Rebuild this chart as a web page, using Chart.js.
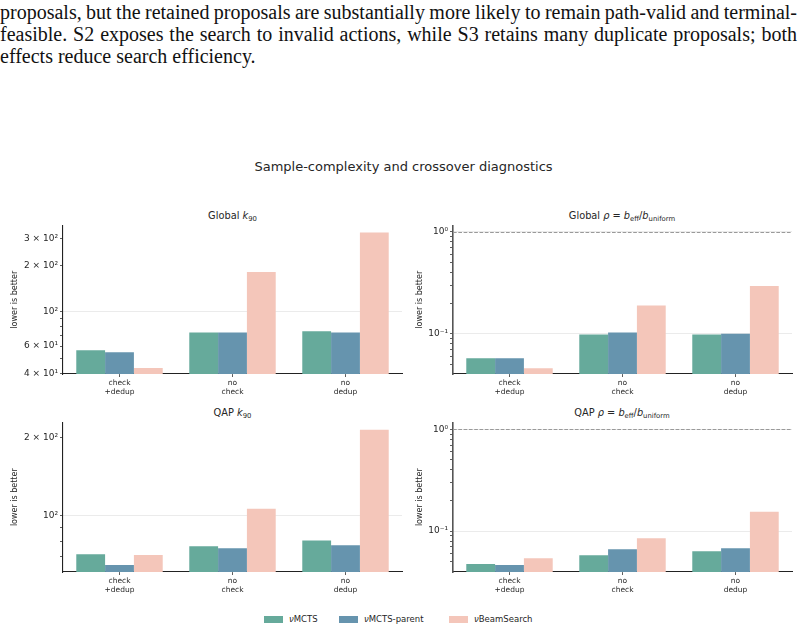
<!DOCTYPE html>
<html>
<head>
<meta charset="utf-8">
<script src="https://cdn.jsdelivr.net/npm/chart.js@4/dist/chart.umd.min.js"></script>
<style>
  html, body { margin:0; padding:0; background:#fff; }
  #page { position:relative; width:807px; height:631px; overflow:hidden; background:#fff; }
  .para { position:absolute; left:0; top:0.5px; width:797px; font-family:"Liberation Serif","Times New Roman",serif; font-size:20px; line-height:22px; color:#111; }
  .para div { white-space:nowrap; }
  .sup { position:absolute; left:0; width:807px; text-align:center; font-family:"DejaVu Sans",sans-serif; font-size:13px; color:#262626; }
  .ptitle { position:absolute; transform:translate(-50%,-50%); white-space:nowrap; font-family:"DejaVu Sans",sans-serif; font-size:9.8px; color:#262626; }
  .ptitle i { font-family:"DejaVu Sans",sans-serif; font-style:italic; }
  .ptitle sub { font-size:0.7em; vertical-align:-0.3em; line-height:0; }
  canvas { position:absolute; }
  .legend { position:absolute; top:613px; left:0; width:807px; height:12px; font-family:"DejaVu Sans",sans-serif; font-size:8.5px; color:#262626; }
  .legend span { position:absolute; top:0; line-height:12px; white-space:nowrap; }
  .legend .sw { width:19px; height:7px; top:2.5px; }
</style>
</head>
<body>
<div id="page">
  <div class="para">
    <div class="j">proposals, but the retained proposals are substantially more likely to remain path-valid and terminal-</div>
    <div class="j">feasible. S2 exposes the search to invalid actions, while S3 retains many duplicate proposals; both</div>
    <div>effects reduce search efficiency.</div>
  </div>

  <div class="sup" style="top:159px;">Sample-complexity and crossover diagnostics</div>

  <div class="ptitle" style="left:232.5px; top:215px;">Global <i>k</i><sub>90</sub></div>
  <div class="ptitle" style="left:622px; top:215px;">Global <i>ρ</i> = <i>b</i><sub>eff</sub>/<i>b</i><sub>uniform</sub></div>
  <div class="ptitle" style="left:232.5px; top:412px;">QAP <i>k</i><sub>90</sub></div>
  <div class="ptitle" style="left:622px; top:412px;">QAP <i>ρ</i> = <i>b</i><sub>eff</sub>/<i>b</i><sub>uniform</sub></div>

  <canvas id="c1" width="410" height="185" style="left:0px; top:218px;"></canvas>
  <canvas id="c2" width="395" height="185" style="left:405px; top:218px;"></canvas>
  <canvas id="c3" width="410" height="186" style="left:0px; top:415px;"></canvas>
  <canvas id="c4" width="395" height="186" style="left:405px; top:415px;"></canvas>

  <div class="legend" id="legend"></div>
</div>

<script>
// ---------- data ----------
const CATEGORIES = [['check', '+dedup'], ['no', 'check'], ['no', 'dedup']];
const SERIES = ['νMCTS', 'νMCTS-parent', 'νBeamSearch'];
const Y_TITLE = 'lower is better';

const globalK90Mcts   = [56.5, 73.6, 74.8];
const globalK90Parent = [54.8, 73.6, 73.6];
const globalK90Beam   = [43.3, 181, 327];

const globalRhoMcts   = [0.0575, 0.0984, 0.098];
const globalRhoParent = [0.0575, 0.103, 0.100];
const globalRhoBeam   = [0.0459, 0.189, 0.295];

const qapK90Mcts   = [71.4, 76.5, 80.6];
const qapK90Parent = [64.9, 75.2, 77.2];
const qapK90Beam   = [70.8, 106.6, 213.8];

const qapRhoMcts   = [0.0475, 0.0581, 0.0635];
const qapRhoParent = [0.0465, 0.0664, 0.068];
const qapRhoBeam   = [0.0543, 0.085, 0.155];

// tick values / labels
const k90GlobalTicks = [40, 50, 60, 70, 80, 90, 100, 200, 300];
const k90GlobalMajor = [100];
const k90GlobalLabelValues = [40, 60, 100, 200, 300];
const k90GlobalLabels = ['4 × 10¹', '6 × 10¹', '10²', '2 × 10²', '3 × 10²'];

const k90QapTicks = [70, 80, 90, 100, 200];
const k90QapMajor = [100];
const k90QapLabelValues = [100, 200];
const k90QapLabels = ['10²', '2 × 10²'];

const rhoTicks = [0.05, 0.06, 0.07, 0.08, 0.09, 0.1, 0.2, 0.3, 0.4, 0.5, 0.6, 0.7, 0.8, 0.9, 1];
const rhoMajor = [0.1, 1];
const rhoLabelValues = [0.1, 1];
const rhoLabels = ['10⁻¹', '10⁰'];

const RHO_REFERENCE = 1;

// ---------- styles ----------
const COLORS = ['#66aa9b', '#6694ae', '#f4c6ba'];
const FONT = 'DejaVu Sans';
const TXT = '#262626';
const SPINE = '#222222';

// justify paragraph lines by adjusting word spacing
const PARA_WIDTH = 797;
document.querySelectorAll('.para .j').forEach(el => {
  const span = document.createElement('span');
  span.textContent = el.textContent;
  el.textContent = '';
  el.appendChild(span);
  const w = span.getBoundingClientRect().width;
  const n = (span.textContent.match(/ /g) || []).length;
  if (n > 0) el.style.wordSpacing = ((PARA_WIDTH - w) / n) + 'px';
});

const refLinePlugin = {
  id: 'refLine',
  afterDatasetsDraw(chart, args, opts) {
    if (opts == null || opts.value == null) return;
    const y = chart.scales.y.getPixelForValue(opts.value);
    const ctx = chart.ctx, a = chart.chartArea;
    ctx.save();
    ctx.strokeStyle = '#9a9a9a';
    ctx.lineWidth = 1;
    ctx.setLineDash([3.7, 1.6]);
    ctx.beginPath();
    ctx.moveTo(a.left, Math.round(y) + 0.5);
    ctx.lineTo(a.right, Math.round(y) + 0.5);
    ctx.stroke();
    ctx.restore();
  }
};

function makePanel(id, values, cfg) {
  new Chart(document.getElementById(id), {
    type: 'bar',
    data: {
      labels: CATEGORIES,
      datasets: SERIES.map((name, i) => ({
        label: name,
        data: values[i],
        backgroundColor: COLORS[i],
        borderWidth: 0,
        categoryPercentage: 0.765,
        barPercentage: 1.0
      }))
    },
    options: {
      responsive: false,
      animation: false,
      devicePixelRatio: 1,
      layout: { padding: { top: cfg.padTop, right: cfg.padRight, left: 0, bottom: 0 } },
      plugins: {
        legend: { display: false },
        title: { display: false },
        tooltip: { enabled: false },
        refLine: { value: cfg.ref }
      },
      scales: {
        x: {
          grid: { display: true, offset: false, drawOnChartArea: false, drawTicks: true,
                  tickLength: 3, tickColor: '#333', tickWidth: 0.8 },
          border: { display: true, color: SPINE, width: 1.1 },
          ticks: { font: { family: FONT, size: 7.5, lineHeight: 1.12 }, color: TXT,
                   padding: 2, maxRotation: 0, autoSkip: false },
          afterFit(s) { s.height = cfg.xHeight; }
        },
        y: {
          type: 'logarithmic',
          min: cfg.min, max: cfg.max,
          afterBuildTicks(s) {
            s.ticks = cfg.ticks.map(v => ({ value: v, major: false }));
          },
          ticks: {
            autoSkip: false,
            font: { family: FONT, size: 9 }, color: TXT, padding: 2,
            callback(v) {
              const k = cfg.labelValues.indexOf(v);
              return k >= 0 ? cfg.labels[k] : '';
            }
          },
          grid: {
            color: (c) => (c.tick && cfg.major.indexOf(c.tick.value) >= 0) ? '#e6e6e6' : 'rgba(0,0,0,0)',
            lineWidth: 0.8,
            drawTicks: true, tickLength: 3, tickColor: '#333', tickWidth: 0.8
          },
          border: { display: true, color: cfg.spineColor, width: cfg.spineWidth },
          title: { display: true, text: Y_TITLE, color: TXT,
                   font: { family: FONT, size: 8 }, padding: { top: 10, bottom: 0 } },
          afterFit(s) { s.width = cfg.yWidth; }
        }
      }
    },
    plugins: [refLinePlugin]
  });
}

makePanel('c1', [globalK90Mcts, globalK90Parent, globalK90Beam], {
  padTop: 6, padRight: 8, xHeight: 29, yWidth: 63, spineColor: SPINE, spineWidth: 1.1,
  min: 39.6, max: 363, ticks: k90GlobalTicks, major: k90GlobalMajor,
  labelValues: k90GlobalLabelValues, labels: k90GlobalLabels, ref: null
});
makePanel('c2', [globalRhoMcts, globalRhoParent, globalRhoBeam], {
  padTop: 6, padRight: 8, xHeight: 29, yWidth: 48, spineColor: '#555', spineWidth: 1.6,
  min: 0.0402, max: 1.16, ticks: rhoTicks, major: rhoMajor,
  labelValues: rhoLabelValues, labels: rhoLabels, ref: RHO_REFERENCE
});
makePanel('c3', [qapK90Mcts, qapK90Parent, qapK90Beam], {
  padTop: 6, padRight: 8, xHeight: 29, yWidth: 63, spineColor: SPINE, spineWidth: 1.1,
  min: 61, max: 228, ticks: k90QapTicks, major: k90QapMajor,
  labelValues: k90QapLabelValues, labels: k90QapLabels, ref: null
});
makePanel('c4', [qapRhoMcts, qapRhoParent, qapRhoBeam], {
  padTop: 6, padRight: 8, xHeight: 29, yWidth: 48, spineColor: '#555', spineWidth: 1.6,
  min: 0.0397, max: 1.17, ticks: rhoTicks, major: rhoMajor,
  labelValues: rhoLabelValues, labels: rhoLabels, ref: RHO_REFERENCE
});

// legend (HTML)
const LEGEND_X = [264, 339, 449];
const leg = document.getElementById('legend');
SERIES.forEach((name, i) => {
  const sw = document.createElement('span');
  sw.className = 'sw';
  sw.style.left = LEGEND_X[i] + 'px';
  sw.style.background = COLORS[i];
  leg.appendChild(sw);
  const t = document.createElement('span');
  t.style.left = (LEGEND_X[i] + 25) + 'px';
  t.innerHTML = '<i>' + name.charAt(0) + '</i>' + name.slice(1);
  leg.appendChild(t);
});
</script>
</body>
</html>
